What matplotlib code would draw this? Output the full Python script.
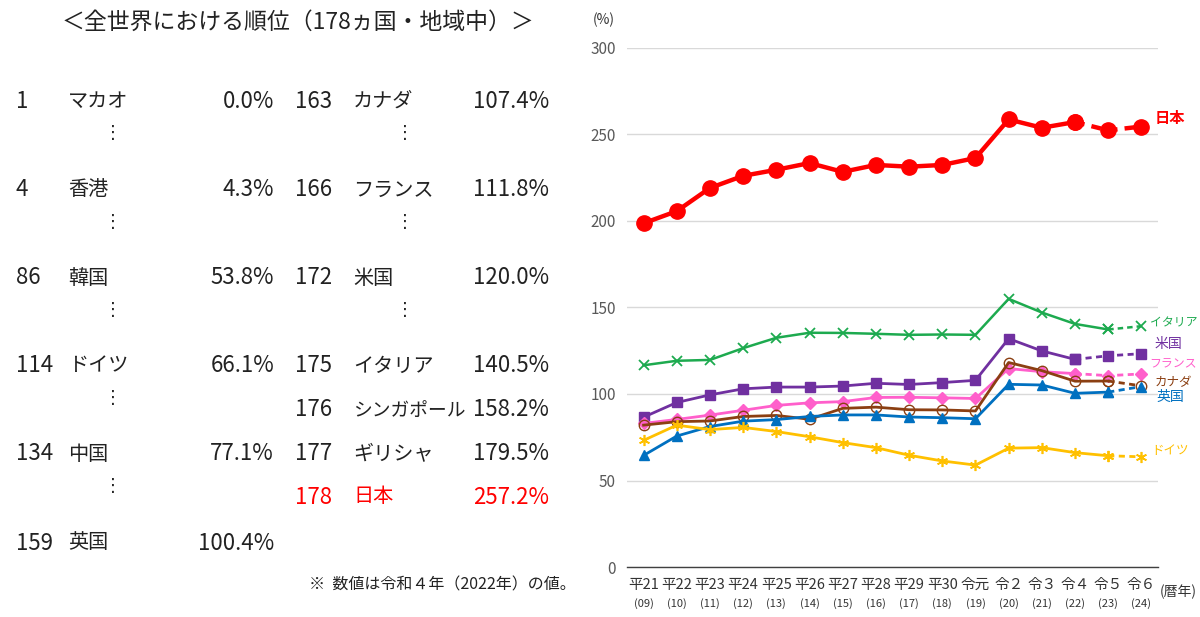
import matplotlib.pyplot as plt
import numpy as np

plt.rcParams['font.family'] = ['Noto Sans CJK JP', 'DejaVu Sans']

# ranking table (left)
left_ranks = [1, 4, 86, 114, 134, 159]
left_names = ['マカオ', '香港', '韓国', 'ドイツ', '中国', '英国']
left_vals = [0.0, 4.3, 53.8, 66.1, 77.1, 100.4]
right_ranks = [163, 166, 172, 175, 176, 177, 178]
right_names = ['カナダ', 'フランス', '米国', 'イタリア', 'シンガポール', 'ギリシャ', '日本']
right_vals = [107.4, 111.8, 120.0, 140.5, 158.2, 179.5, 257.2]

# line chart (right)
years = ['平21', '平22', '平23', '平24', '平25', '平26', '平27', '平28',
         '平29', '平30', '令元', '令２', '令３', '令４', '令５', '令６']
years_ad = ['(09)', '(10)', '(11)', '(12)', '(13)', '(14)', '(15)', '(16)',
            '(17)', '(18)', '(19)', '(20)', '(21)', '(22)', '(23)', '(24)']
japan = [198.7, 205.7, 219.1, 226.1, 229.6, 233.5, 228.4, 232.4, 231.4, 232.4, 236.4, 258.7, 253.9, 257.2, 252.4, 254.6]
italy = [116.6, 119.2, 119.7, 126.5, 132.5, 135.4, 135.3, 134.8, 134.2, 134.4, 134.2, 155.0, 147.1, 140.5, 137.3, 139.2]
usa = [86.6, 95.1, 99.5, 103.0, 104.0, 104.0, 104.6, 106.2, 105.5, 106.6, 107.9, 132.0, 124.9, 120.0, 122.1, 123.3]
france = [83.0, 85.3, 87.8, 90.6, 93.4, 94.9, 95.6, 98.0, 98.1, 97.8, 97.4, 114.7, 112.9, 111.8, 110.6, 111.6]
canada = [82.0, 84.0, 84.4, 87.0, 87.6, 85.4, 91.7, 92.4, 90.9, 90.8, 90.2, 118.2, 113.5, 107.4, 107.5, 104.7]
uk = [64.5, 75.7, 81.2, 84.3, 85.2, 87.0, 87.9, 87.9, 86.7, 86.3, 85.7, 105.6, 105.2, 100.4, 101.1, 104.3]
germany = [73.2, 82.0, 79.4, 80.7, 78.3, 75.3, 71.9, 69.0, 64.6, 61.3, 58.9, 68.7, 69.0, 66.1, 64.3, 63.7]

W, H = 1200, 617
fig = plt.figure(figsize=(12, 6.17), dpi=100)


def px(x, y):
    return x / W, 1 - y / H


# ---- left table ----
fig.text(*px(298, 22), '＜全世界における順位（178ヵ国・地域中）＞', fontsize=16.5,
         ha='center', va='center', color='#222222')

left_rows = [101, 190, 278, 366, 454, 543]
right_rows = [101, 190, 278, 366, 410, 454, 497]
left_dots = [133, 222, 310, 398, 486]
right_dots = [133, 222, 310]
fs_num, fs_name = 16, 14.5
for r, n, v, y in zip(left_ranks, left_names, left_vals, left_rows):
    fig.text(*px(16, y), str(r), fontsize=fs_num, va='center', color='#222222')
    fig.text(*px(68, y), n, fontsize=fs_name, va='center', color='#222222')
    fig.text(*px(274, y), f'{v:.1f}%', fontsize=fs_num, va='center', ha='right', color='#222222')
for r, n, v, y in zip(right_ranks, right_names, right_vals, right_rows):
    c = '#FF0000' if n == '日本' else '#222222'
    fig.text(*px(295, y), str(r), fontsize=fs_num, va='center', color=c)
    fig.text(*px(353, y), n, fontsize=fs_name if len(n) < 6 else 13.5, va='center', color=c)
    fig.text(*px(549, y), f'{v:.1f}%', fontsize=fs_num, va='center', ha='right', color=c)
for y in left_dots:
    fig.text(*px(113, y), '⋮', fontsize=13, va='center', ha='center', color='#222222')
for y in right_dots:
    fig.text(*px(405, y), '⋮', fontsize=13, va='center', ha='center', color='#222222')
fig.text(*px(576, 585), '※  数値は令和４年（2022年）の値。', fontsize=11.5,
         ha='right', va='center', color='#222222')

# ---- right chart ----
ax = fig.add_axes([627 / W, 1 - 567 / H, (1158 - 627) / W, (567 - 48) / H])
x = np.arange(len(years))

# name, values, colour, marker style, line width, index where dashed part starts
series = [
    ('イタリア', italy, '#1DAA4F', dict(marker='x', ms=7, mew=1.3), 1.8, 14),
    ('米国', usa, '#7030A0', dict(marker='s', ms=7.5), 2.0, 13),
    ('フランス', france, '#FF5FCB', dict(marker='D', ms=6), 2.0, 13),
    ('カナダ', canada, '#8B3F12', dict(marker='o', ms=7.5, mfc='none', mew=1.0), 2.0, 14),
    ('英国', uk, '#0070C0', dict(marker='^', ms=7.5), 2.0, 14),
    ('ドイツ', germany, '#FFC000', dict(marker=(6, 2, 0), ms=8, mew=1.2), 2.0, 14),
    ('日本', japan, '#FF0000', dict(marker='o', ms=11), 3.2, 13),
]
label_y = {'イタリア': 141, '米国': 129, 'フランス': 117.5, 'カナダ': 106.5,
           '英国': 98, 'ドイツ': 67.5, '日本': 259.5}
label_x = {'イタリア': 15.25, '米国': 15.4, 'フランス': 15.25, 'カナダ': 15.4,
           '英国': 15.45, 'ドイツ': 15.3, '日本': 15.4}
label_fs = {'イタリア': 8.6, '米国': 10, 'フランス': 8.6, 'カナダ': 9,
            '英国': 10, 'ドイツ': 9, '日本': 11}

for name, vals, col, mk, lw, split in series:
    vals = np.array(vals)
    m = dict(mk)
    mfc = m.pop('mfc', col)
    ax.plot(x[:split + 1], vals[:split + 1], color=col, lw=lw, mec=col, mfc=mfc, **m, zorder=3)
    ax.plot(x[split:], vals[split:], color=col, lw=lw, ls=(0, (2.2, 1.6)), mec=col, mfc=mfc,
            **m, zorder=3)
    ax.text(label_x[name], label_y[name], name, color=col, fontsize=label_fs[name],
            fontweight='bold' if name == '日本' else 'normal', va='center', ha='left',
            clip_on=False)

ax.set_xlim(-0.5, 15.5)
ax.set_ylim(0, 300)
ax.set_yticks(np.arange(0, 301, 50))
ax.tick_params(axis='y', length=0, pad=8, labelsize=11, labelcolor='#595959')
ax.set_xticks(x)
ax.set_xticklabels([])
ax.tick_params(axis='x', length=0)
ax.grid(axis='y', color='#D9D9D9', lw=1)
ax.set_axisbelow(True)
for s in ['top', 'right', 'left']:
    ax.spines[s].set_visible(False)
ax.spines['bottom'].set_color('#404040')
ax.spines['bottom'].set_linewidth(1.0)

tr = ax.get_xaxis_transform()
for i, (a, b) in enumerate(zip(years, years_ad)):
    ax.text(i, -0.035, a, transform=tr, ha='center', va='center', fontsize=10.5, color='#333333')
    ax.text(i, -0.071, b, transform=tr, ha='center', va='center', fontsize=8, color='#333333')
fig.text(*px(1178, 592), '(暦年)', fontsize=10, ha='center', va='center', color='#333333')
fig.text(*px(604, 20), '(%)', fontsize=10, ha='center', va='center', color='#333333')

fig.savefig('out.png', dpi=100, facecolor='white')
